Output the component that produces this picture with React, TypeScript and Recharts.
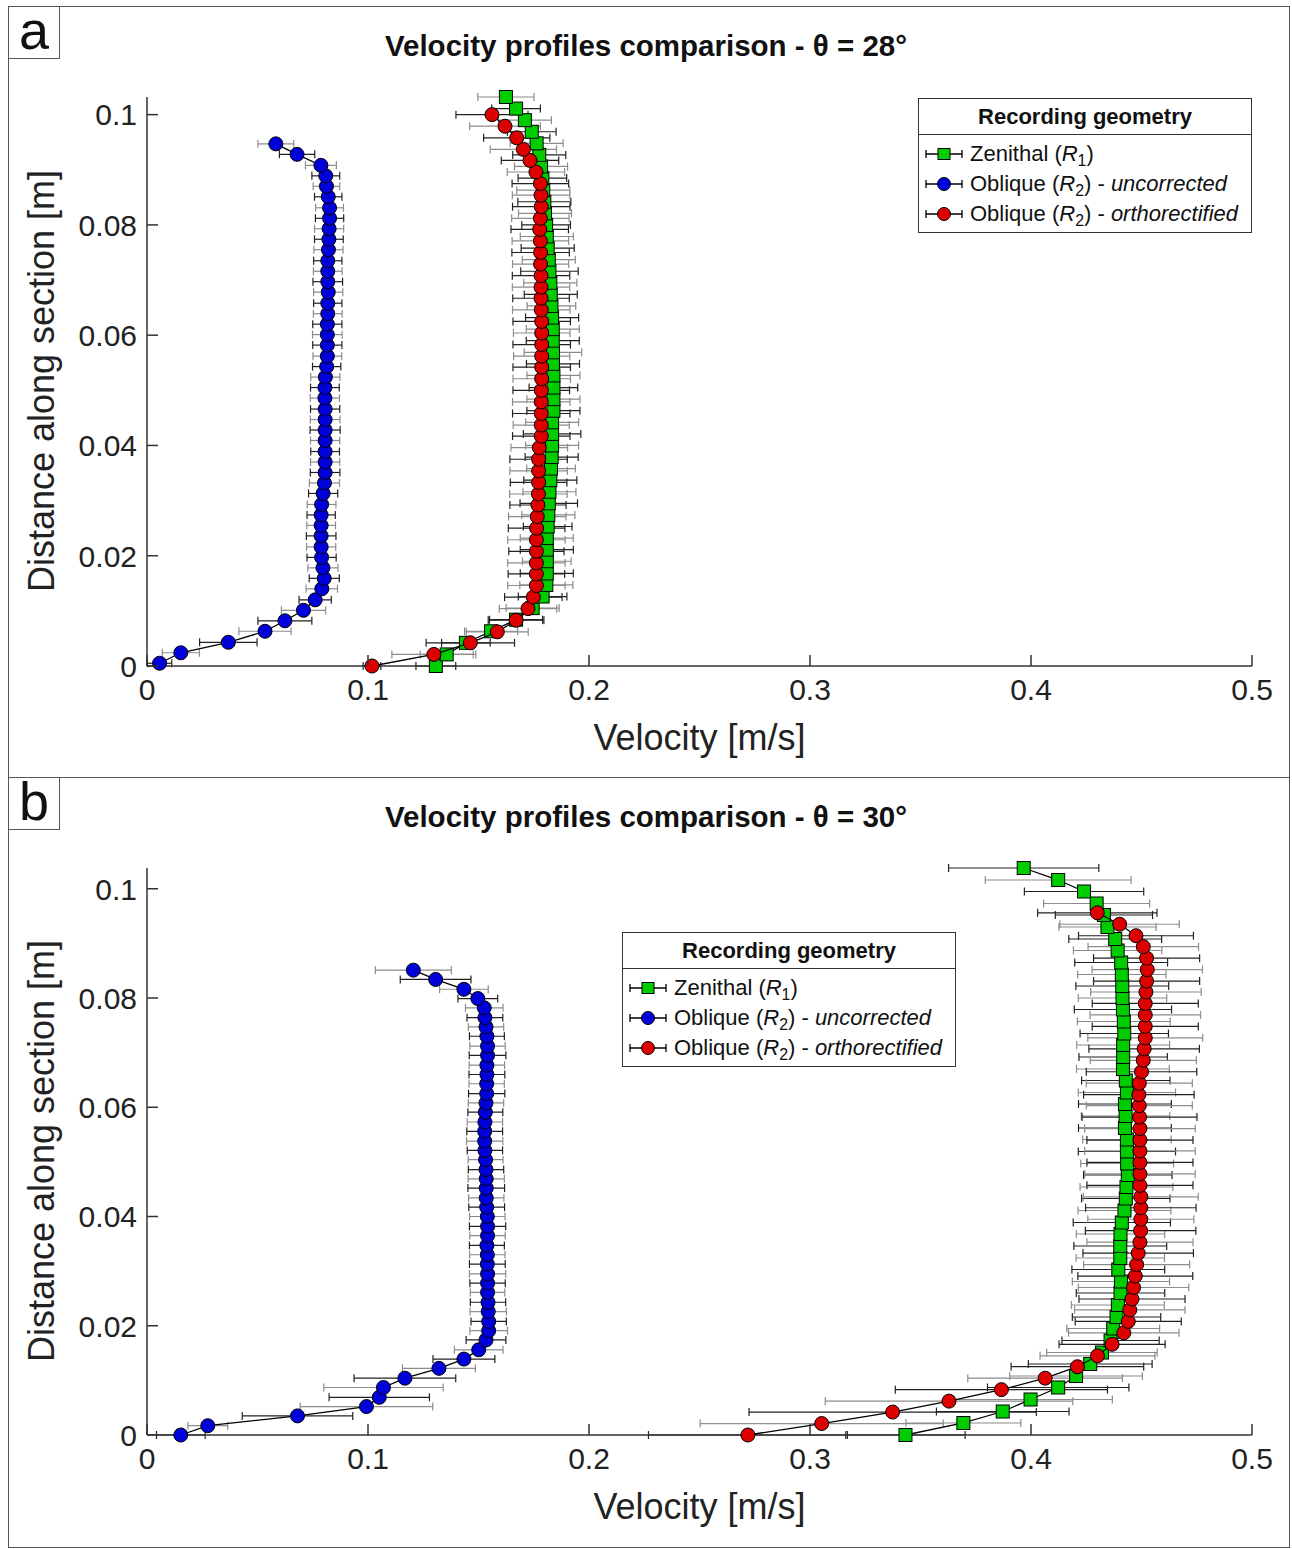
import React from 'react';
import { ScatterChart, Scatter, XAxis, YAxis, ErrorBar } from 'recharts';

const FONT = '"Liberation Sans", Arial, Helvetica, sans-serif';

// ---- panel a : theta = 28 deg (values read bottom-up) ----
const A_ZEN_D = [0, 0.0021, 0.0042, 0.0063, 0.0084, 0.0105, 0.0126, 0.0147, 0.0168, 0.019, 0.0211, 0.0232, 0.0253, 0.0274, 0.0295, 0.0316, 0.0337, 0.0358, 0.0379, 0.04, 0.0421, 0.0442, 0.0463, 0.0484, 0.0505, 0.0527, 0.0548, 0.0569, 0.059, 0.0611, 0.0632, 0.0653, 0.0674, 0.0695, 0.0716, 0.0737, 0.0758, 0.0779, 0.08, 0.0821, 0.0842, 0.0863, 0.0885, 0.0906, 0.0927, 0.0948, 0.0969, 0.099, 0.1011, 0.1032];
const A_ZEN_V = [0.1307, 0.1356, 0.1443, 0.1557, 0.167, 0.1745, 0.179, 0.1807, 0.1809, 0.1809, 0.1809, 0.1809, 0.1813, 0.1816, 0.1818, 0.1821, 0.1825, 0.1828, 0.1831, 0.1833, 0.1833, 0.1833, 0.1839, 0.1839, 0.1839, 0.1839, 0.1837, 0.1837, 0.1836, 0.1836, 0.1833, 0.183, 0.1827, 0.1825, 0.1821, 0.1818, 0.1813, 0.1809, 0.1806, 0.1801, 0.1798, 0.1793, 0.1789, 0.1783, 0.1775, 0.1763, 0.1741, 0.171, 0.167, 0.1624];
const A_ZEN_E = [0.009, 0.012, 0.011, 0.012, 0.012, 0.012, 0.011, 0.012, 0.012, 0.011, 0.012, 0.012, 0.011, 0.012, 0.013, 0.012, 0.012, 0.011, 0.012, 0.012, 0.013, 0.012, 0.012, 0.012, 0.011, 0.012, 0.012, 0.013, 0.012, 0.012, 0.012, 0.011, 0.012, 0.012, 0.013, 0.012, 0.012, 0.012, 0.011, 0.012, 0.012, 0.012, 0.011, 0.012, 0.012, 0.012, 0.011, 0.012, 0.011, 0.0127];

const A_UNC_D = [0.0005, 0.0024, 0.0043, 0.0063, 0.0082, 0.0101, 0.012, 0.014, 0.0159, 0.0178, 0.0197, 0.0216, 0.0236, 0.0255, 0.0274, 0.0293, 0.0313, 0.0332, 0.0351, 0.037, 0.0389, 0.0409, 0.0428, 0.0447, 0.0466, 0.0486, 0.0505, 0.0524, 0.0543, 0.0562, 0.0582, 0.0601, 0.062, 0.0639, 0.0658, 0.0678, 0.0697, 0.0716, 0.0735, 0.0755, 0.0774, 0.0793, 0.0812, 0.0831, 0.0851, 0.087, 0.0889, 0.0908, 0.0928, 0.0947];
const A_UNC_V = [0.0057, 0.0153, 0.0368, 0.0534, 0.0624, 0.0708, 0.0761, 0.0791, 0.0802, 0.0796, 0.079, 0.0788, 0.0788, 0.0788, 0.0788, 0.079, 0.0797, 0.0803, 0.0806, 0.0806, 0.0806, 0.0806, 0.0806, 0.0806, 0.0806, 0.0805, 0.0805, 0.0807, 0.0813, 0.0816, 0.0816, 0.0816, 0.0816, 0.0818, 0.0818, 0.082, 0.0818, 0.0818, 0.0818, 0.0821, 0.0823, 0.0824, 0.0826, 0.0826, 0.082, 0.0812, 0.0809, 0.0787, 0.0679, 0.0583];
const A_UNC_E = [0.0055, 0.0084, 0.013, 0.0118, 0.0122, 0.01, 0.0073, 0.0071, 0.0068, 0.0068, 0.0066, 0.0066, 0.0067, 0.0065, 0.0064, 0.0065, 0.0066, 0.0068, 0.0067, 0.0066, 0.0065, 0.0066, 0.0068, 0.0067, 0.0066, 0.0066, 0.0065, 0.0066, 0.0064, 0.0065, 0.0066, 0.0067, 0.0066, 0.0065, 0.0064, 0.0066, 0.0067, 0.0065, 0.0064, 0.0066, 0.0065, 0.0066, 0.0064, 0.0063, 0.0062, 0.006, 0.0063, 0.007, 0.008, 0.0081];

const A_ORT_D = [0, 0.0021, 0.0042, 0.0062, 0.0083, 0.0104, 0.0125, 0.0146, 0.0167, 0.0187, 0.0208, 0.0229, 0.025, 0.0271, 0.0292, 0.0312, 0.0333, 0.0354, 0.0375, 0.0396, 0.0417, 0.0437, 0.0458, 0.0479, 0.05, 0.0521, 0.0542, 0.0562, 0.0583, 0.0604, 0.0625, 0.0646, 0.0667, 0.0687, 0.0708, 0.0729, 0.075, 0.0771, 0.0792, 0.0812, 0.0833, 0.0854, 0.0875, 0.0896, 0.0917, 0.0937, 0.0958, 0.0979, 0.1];
const A_ORT_V = [0.1018, 0.1298, 0.1463, 0.1585, 0.167, 0.1724, 0.1748, 0.1762, 0.1762, 0.1762, 0.1762, 0.1762, 0.1763, 0.1766, 0.1769, 0.1771, 0.1772, 0.1772, 0.1772, 0.1775, 0.1784, 0.1784, 0.1784, 0.1784, 0.1784, 0.1786, 0.1786, 0.1786, 0.1786, 0.1786, 0.1786, 0.1784, 0.1783, 0.1783, 0.1783, 0.1781, 0.1781, 0.178, 0.1777, 0.178, 0.1784, 0.1783, 0.178, 0.176, 0.1733, 0.1703, 0.1673, 0.162, 0.1561];
const A_ORT_E = [0.004, 0.019, 0.02, 0.014, 0.0126, 0.013, 0.013, 0.013, 0.0128, 0.013, 0.0125, 0.013, 0.0128, 0.013, 0.0127, 0.013, 0.0128, 0.013, 0.013, 0.0128, 0.013, 0.0127, 0.013, 0.013, 0.0128, 0.013, 0.013, 0.0127, 0.013, 0.0128, 0.013, 0.013, 0.0128, 0.013, 0.013, 0.0127, 0.013, 0.0128, 0.013, 0.013, 0.013, 0.013, 0.0128, 0.013, 0.013, 0.015, 0.015, 0.016, 0.0163];

// ---- panel b : theta = 30 deg ----
const B_ZEN_D = [0, 0.0022, 0.0043, 0.0065, 0.0087, 0.0108, 0.013, 0.0151, 0.0173, 0.0195, 0.0216, 0.0238, 0.026, 0.0281, 0.0303, 0.0324, 0.0346, 0.0368, 0.0389, 0.0411, 0.0433, 0.0454, 0.0476, 0.0497, 0.0519, 0.0541, 0.0562, 0.0584, 0.0606, 0.0627, 0.0649, 0.067, 0.0692, 0.0714, 0.0735, 0.0757, 0.0779, 0.08, 0.0822, 0.0843, 0.0865, 0.0887, 0.0908, 0.093, 0.0952, 0.0973, 0.0995, 0.1016, 0.1038];
const B_ZEN_V = [0.3432, 0.3694, 0.3872, 0.3998, 0.4123, 0.4204, 0.4268, 0.4321, 0.436, 0.4372, 0.4387, 0.4393, 0.4405, 0.4407, 0.4395, 0.4404, 0.4404, 0.4405, 0.4411, 0.4423, 0.4429, 0.4432, 0.4438, 0.4435, 0.4434, 0.4434, 0.4425, 0.4428, 0.4425, 0.4434, 0.4429, 0.4416, 0.4417, 0.4417, 0.4422, 0.442, 0.4416, 0.4414, 0.4413, 0.4411, 0.4408, 0.4392, 0.4381, 0.4346, 0.433, 0.4297, 0.424, 0.4123, 0.3967];
const B_ZEN_E = [0.027, 0.026, 0.03, 0.037, 0.032, 0.03, 0.028, 0.025, 0.022, 0.021, 0.02, 0.021, 0.02, 0.022, 0.021, 0.02, 0.021, 0.02, 0.022, 0.021, 0.02, 0.021, 0.02, 0.021, 0.022, 0.02, 0.021, 0.02, 0.021, 0.022, 0.02, 0.021, 0.02, 0.021, 0.02, 0.021, 0.022, 0.02, 0.021, 0.02, 0.021, 0.02, 0.021, 0.022, 0.022, 0.024, 0.027, 0.033, 0.034];

const B_UNC_D = [0, 0.0017, 0.0035, 0.0052, 0.0069, 0.0087, 0.0104, 0.0122, 0.0139, 0.0156, 0.0174, 0.0191, 0.0208, 0.0226, 0.0243, 0.0261, 0.0278, 0.0295, 0.0313, 0.033, 0.0347, 0.0365, 0.0382, 0.04, 0.0417, 0.0434, 0.0452, 0.0469, 0.0486, 0.0504, 0.0521, 0.0538, 0.0556, 0.0573, 0.0591, 0.0608, 0.0625, 0.0643, 0.066, 0.0677, 0.0695, 0.0712, 0.073, 0.0747, 0.0764, 0.0782, 0.0799, 0.0816, 0.0834, 0.0851];
const B_UNC_V = [0.0153, 0.0275, 0.0681, 0.0993, 0.1051, 0.107, 0.1167, 0.1321, 0.1434, 0.1501, 0.1534, 0.1546, 0.1546, 0.1544, 0.1543, 0.1541, 0.1541, 0.1541, 0.154, 0.154, 0.1538, 0.1541, 0.1541, 0.154, 0.1537, 0.1535, 0.1535, 0.1535, 0.1534, 0.1532, 0.1529, 0.1528, 0.1528, 0.1529, 0.1531, 0.1534, 0.1537, 0.1537, 0.1538, 0.1538, 0.1541, 0.1541, 0.1538, 0.1534, 0.1529, 0.1526, 0.1497, 0.1434, 0.1306, 0.1205];
const B_UNC_E = [0.011, 0.009, 0.025, 0.03, 0.0227, 0.027, 0.023, 0.0165, 0.014, 0.011, 0.009, 0.0085, 0.008, 0.0082, 0.008, 0.0078, 0.008, 0.0082, 0.0081, 0.008, 0.0079, 0.008, 0.0082, 0.008, 0.0081, 0.008, 0.0083, 0.0082, 0.008, 0.0079, 0.008, 0.0082, 0.0081, 0.008, 0.0079, 0.008, 0.0082, 0.008, 0.0081, 0.008, 0.0083, 0.008, 0.0079, 0.008, 0.0081, 0.0085, 0.009, 0.011, 0.016, 0.0172];

const B_ORT_D = [0, 0.0021, 0.0042, 0.0062, 0.0083, 0.0104, 0.0125, 0.0145, 0.0166, 0.0187, 0.0208, 0.0229, 0.0249, 0.027, 0.0291, 0.0312, 0.0333, 0.0353, 0.0374, 0.0395, 0.0416, 0.0436, 0.0457, 0.0478, 0.0499, 0.052, 0.054, 0.0561, 0.0582, 0.0603, 0.0623, 0.0644, 0.0665, 0.0686, 0.0707, 0.0727, 0.0748, 0.0769, 0.079, 0.0811, 0.0831, 0.0852, 0.0873, 0.0894, 0.0914, 0.0935, 0.0956];
const B_ORT_V = [0.2719, 0.3053, 0.3374, 0.3629, 0.3866, 0.4064, 0.421, 0.4301, 0.4367, 0.442, 0.444, 0.4447, 0.4457, 0.4464, 0.4472, 0.4478, 0.4485, 0.4493, 0.4496, 0.4497, 0.4497, 0.4497, 0.4493, 0.4493, 0.4493, 0.4493, 0.4493, 0.4493, 0.4491, 0.449, 0.4488, 0.449, 0.45, 0.4508, 0.4512, 0.4517, 0.4517, 0.4517, 0.4517, 0.452, 0.4523, 0.4526, 0.4523, 0.4508, 0.4475, 0.4401, 0.43];
const B_ORT_E = [0.045, 0.055, 0.065, 0.056, 0.048, 0.035, 0.03, 0.026, 0.024, 0.025, 0.024, 0.025, 0.024, 0.025, 0.026, 0.024, 0.025, 0.024, 0.025, 0.024, 0.025, 0.026, 0.024, 0.025, 0.024, 0.025, 0.024, 0.025, 0.026, 0.024, 0.025, 0.024, 0.025, 0.024, 0.025, 0.026, 0.024, 0.025, 0.024, 0.025, 0.024, 0.025, 0.024, 0.025, 0.026, 0.027, 0.027];

const X_TICKS = [0, 0.1, 0.2, 0.3, 0.4, 0.5];
const Y_TICKS = [0, 0.02, 0.04, 0.06, 0.08, 0.1];

const GREEN = '#00cc00';
const BLUE = '#0000d8';
const RED = '#dd0000';
const AXIS = '#333';

// error bars alternate black / grey like the original export
const toRows = (d: number[], v: number[], e: number[]) =>
  d.map((dist, i) => ({
    d: dist,
    v: v[i],
    eDark: i % 2 === 0 ? e[i] : undefined,
    eGrey: i % 2 === 1 ? e[i] : undefined,
  }));

const squareShape = (p: any) => (
  <rect x={p.cx - 6.5} y={p.cy - 6.5} width={13} height={13} fill={GREEN} stroke="#000" strokeWidth={1} />
);
const dotShape = (fill: string) => (p: any) => (
  <circle cx={p.cx} cy={p.cy} r={7} fill={fill} stroke="#000" strokeWidth={1} />
);
const noShape = () => <g />;

const YTick = ({ x, y, payload }: any) => (
  <g>
    <line x1={x + 10} y1={y} x2={x + 21} y2={y} stroke={AXIS} strokeWidth={1.5} />
    <text x={x} y={y} dy="0.36em" textAnchor="end" fontSize={30} fontFamily={FONT} fill="#222">
      {payload.value}
    </text>
  </g>
);

const XTick = ({ x, y, payload }: any) => (
  <g>
    <line x1={x} y1={y - 13} x2={x} y2={y - 24} stroke={AXIS} strokeWidth={1.5} />
    <text x={x} y={y} dy="0.71em" textAnchor="middle" fontSize={30} fontFamily={FONT} fill="#222">
      {payload.value}
    </text>
  </g>
);

const Sub = ({ n }: { n: string }) => (
  <span>
    <i>R</i>
    <span style={{ fontSize: '0.72em', position: 'relative', top: '0.3em' }}>{n}</span>
  </span>
);

const LegendIcon = ({ kind, fill }: { kind: 'sq' | 'dot'; fill: string }) => (
  <svg width={40} height={18} style={{ display: 'block', marginRight: 6, flex: 'none' }}>
    <line x1={2} y1={9} x2={38} y2={9} stroke="#000" strokeWidth={1.3} />
    <line x1={2} y1={5} x2={2} y2={13} stroke="#000" strokeWidth={1.3} />
    <line x1={38} y1={5} x2={38} y2={13} stroke="#000" strokeWidth={1.3} />
    {kind === 'sq' ? (
      <rect x={14} y={3.5} width={12} height={11} fill={fill} stroke="#000" />
    ) : (
      <circle cx={20} cy={9} r={6.5} fill={fill} stroke="#000" />
    )}
  </svg>
);

const rowStyle: React.CSSProperties = { display: 'flex', alignItems: 'center', height: 30, whiteSpace: 'nowrap' };

const GeometryLegend = ({ left, top }: { left: number; top: number }) => (
  <div
    style={{
      position: 'absolute', left, top, width: 334, height: 135, border: '1px solid #333',
      background: '#fff', fontFamily: FONT, fontSize: 22, color: '#111', boxSizing: 'border-box',
    }}
  >
    <div style={{ height: 36, lineHeight: '35px', textAlign: 'center', fontWeight: 'bold', borderBottom: '1px solid #333', boxSizing: 'border-box' }}>
      Recording geometry
    </div>
    <div style={{ paddingLeft: 5, paddingTop: 4 }}>
      <div style={rowStyle}><LegendIcon kind="sq" fill={GREEN} />Zenithal (<Sub n="1" />)</div>
      <div style={rowStyle}><LegendIcon kind="dot" fill={BLUE} />Oblique (<Sub n="2" />) -&nbsp;<i>uncorrected</i></div>
      <div style={rowStyle}><LegendIcon kind="dot" fill={RED} />Oblique (<Sub n="2" />) -&nbsp;<i>orthorectified</i></div>
    </div>
  </div>
);

type Series = { d: number[]; v: number[]; e: number[] };

const ProfileChart = ({
  height, marginTop, marginBottom, yMax, zen, unc, ort,
}: {
  height: number; marginTop: number; marginBottom: number; yMax: number;
  zen: Series; unc: Series; ort: Series;
}) => {
  const zenRows = toRows(zen.d, zen.v, zen.e);
  const uncRows = toRows(unc.d, unc.v, unc.e);
  const ortRows = toRows(ort.d, ort.v, ort.e);
  const errSets = [zenRows, uncRows, ortRows];
  return (
    <ScatterChart width={1292} height={height} margin={{ top: marginTop, right: 40, bottom: marginBottom, left: 87 }}>
      <XAxis
        type="number" dataKey="v" domain={[0, 0.5]} ticks={X_TICKS} height={60}
        axisLine={{ stroke: AXIS, strokeWidth: 1.5 }} tickLine={false} tickSize={0} tickMargin={13}
        tick={<XTick />} interval={0}
        label={{ value: 'Velocity [m/s]', position: 'bottom', offset: -2, fontSize: 36, fontFamily: FONT, fill: '#222' }}
      />
      <YAxis
        type="number" dataKey="d" domain={[0, yMax]} ticks={Y_TICKS} width={60}
        axisLine={{ stroke: AXIS, strokeWidth: 1.5 }} tickLine={false} tickSize={0} tickMargin={10}
        tick={<YTick />} interval={0}
      />
      {errSets.map((rows, k) => (
        <Scatter key={'err' + k} data={rows} shape={noShape} isAnimationActive={false}>
          <ErrorBar dataKey="eGrey" direction="x" width={4} stroke="#8c8c8c" strokeWidth={1.2} />
          <ErrorBar dataKey="eDark" direction="x" width={4} stroke="#222" strokeWidth={1.2} />
        </Scatter>
      ))}
      <Scatter data={zenRows} shape={squareShape} line={{ stroke: '#000', strokeWidth: 1.3 }} isAnimationActive={false} />
      <Scatter data={uncRows} shape={dotShape(BLUE)} line={{ stroke: '#000', strokeWidth: 1.3 }} isAnimationActive={false} />
      <Scatter data={ortRows} shape={dotShape(RED)} line={{ stroke: '#000', strokeWidth: 1.3 }} isAnimationActive={false} />
    </ScatterChart>
  );
};

const PanelFrame = ({ top, height, letter, title, yTitleCenter }: any) => (
  <>
    <div style={{ position: 'absolute', left: 8, top, width: 1282, height, border: '1px solid #555', boxSizing: 'border-box' }} />
    <div
      style={{
        position: 'absolute', left: 8, top, width: 52, height: 53, border: '1px solid #555',
        boxSizing: 'border-box', fontFamily: FONT, fontSize: 54,
        lineHeight: '46px', textAlign: 'center', color: '#111', background: '#fff',
      }}
    >
      {letter}
    </div>
    <div
      style={{
        position: 'absolute', left: 0, width: 1292, top: top + 25, textAlign: 'center', fontFamily: FONT,
        fontWeight: 'bold', fontSize: 29.5, lineHeight: '30px', color: '#111',
      }}
    >
      {title}
    </div>
    <div
      style={{
        position: 'absolute', left: 42, top: yTitleCenter, transform: 'translate(-50%, -50%) rotate(-90deg)',
        fontFamily: FONT, fontSize: 36, lineHeight: '36px', whiteSpace: 'nowrap', color: '#222',
      }}
    >
      Distance along section [m]
    </div>
  </>
);

export default function App() {
  return (
    <div style={{ position: 'absolute', left: 0, top: 0, width: 1292, height: 1549, background: '#fff', overflow: 'hidden' }}>
      <PanelFrame top={6} height={772} letter="a" title="Velocity profiles comparison - θ = 28°" yTitleCenter={381} />
      <PanelFrame top={777} height={771} letter="b" title="Velocity profiles comparison - θ = 30°" yTitleCenter={1151} />
      <div style={{ position: 'absolute', left: 0, top: 0 }}>
        <ProfileChart
          height={777} marginTop={97} marginBottom={51} yMax={0.1032}
          zen={{ d: A_ZEN_D, v: A_ZEN_V, e: A_ZEN_E }}
          unc={{ d: A_UNC_D, v: A_UNC_V, e: A_UNC_E }}
          ort={{ d: A_ORT_D, v: A_ORT_V, e: A_ORT_E }}
        />
      </div>
      <div style={{ position: 'absolute', left: 0, top: 777 }}>
        <ProfileChart
          height={772} marginTop={91} marginBottom={54} yMax={0.1038}
          zen={{ d: B_ZEN_D, v: B_ZEN_V, e: B_ZEN_E }}
          unc={{ d: B_UNC_D, v: B_UNC_V, e: B_UNC_E }}
          ort={{ d: B_ORT_D, v: B_ORT_V, e: B_ORT_E }}
        />
      </div>
      <GeometryLegend left={918} top={98} />
      <GeometryLegend left={622} top={932} />
    </div>
  );
}
